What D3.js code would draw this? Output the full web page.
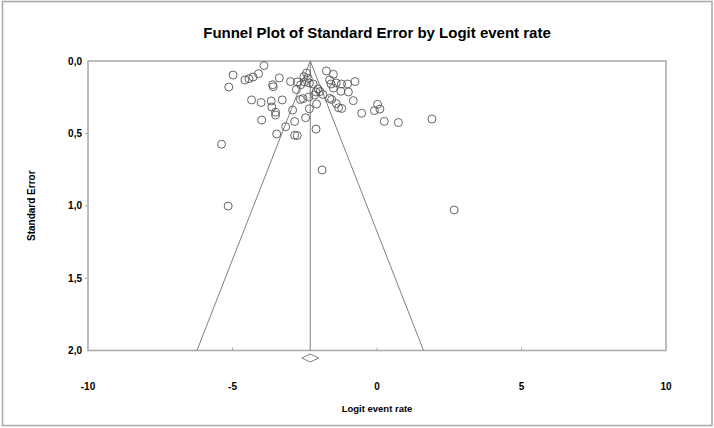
<!DOCTYPE html>
<html>
<head>
<meta charset="utf-8">
<script src="https://cdn.jsdelivr.net/npm/d3@7"></script>
<style>
  body { margin: 0; background: #fff; }
  svg text { font-family: "Liberation Sans", Arial, sans-serif; font-weight: bold; fill: #000; }
</style>
</head>
<body>
<div id="chart"></div>
<script>
// Study effects (logit event rate) and their standard errors
const logitRates = [
  -3.91, -4.98, -5.13, -4.57, -4.43, -4.29, -4.10, -3.38, -3.61, -3.59,
  -2.99, -4.34, -4.01, -3.66, -3.28, -3.64, -3.51, -3.51, -3.99, -2.92,
  -3.16, -3.47, -2.85, -2.76, -2.11, -5.38, -5.15, -1.90,  2.67, -2.85,
  -2.47, -2.34, -2.65, -2.56, -2.36, -2.09, -2.76, -2.64, -2.79, -2.44,
  -2.53, -2.38, -2.34, -2.51, -2.21, -2.04, -2.11, -1.97, -2.16, -1.87,
  -1.75, -1.51, -0.76, -1.64, -1.59, -1.41, -1.23, -1.02, -1.51, -1.25,
  -0.99, -1.64, -1.57, -1.41, -1.33, -1.22, -0.82, -0.53,  0.02, -0.09,
   0.10,  0.25,  0.74,  1.90
];
const standardErrors = [
  0.031, 0.097, 0.180, 0.131, 0.122, 0.111, 0.088, 0.117, 0.164, 0.178,
  0.142, 0.269, 0.287, 0.276, 0.269, 0.318, 0.354, 0.373, 0.408, 0.339,
  0.454, 0.504, 0.513, 0.515, 0.470, 0.575, 1.002, 0.753, 1.029, 0.418,
  0.392, 0.330, 0.266, 0.260, 0.249, 0.297, 0.145, 0.164, 0.197, 0.083,
  0.108, 0.120, 0.152, 0.145, 0.159, 0.193, 0.214, 0.211, 0.235, 0.231,
  0.069, 0.092, 0.142, 0.131, 0.159, 0.152, 0.159, 0.159, 0.187, 0.209,
  0.214, 0.258, 0.266, 0.294, 0.323, 0.328, 0.274, 0.361, 0.299, 0.343,
  0.332, 0.417, 0.425, 0.401
];

// Combined estimate and its confidence interval (diamond)
const meanEffect = -2.31;
const meanCI = [-2.60, -2.02];

const xTicks = [-10, -5, 0, 5, 10];
const yTicks = [0, 0.5, 1.0, 1.5, 2.0];

const width = 714, height = 428;
const plot = { left: 88, right: 666, top: 61, bottom: 350.5 };
const frameColor = "#a8a8a8";
const lineColor = "#808080";

const svg = d3.select("#chart").append("svg")
    .attr("width", width)
    .attr("height", height);

// Outer border round the whole picture
svg.append("rect")
    .attr("x", 2.5).attr("y", 1.5)
    .attr("width", 709.5).attr("height", 424)
    .attr("fill", "none")
    .attr("stroke", frameColor)
    .attr("stroke-width", 1.5);

const x = d3.scaleLinear().domain([-10, 10]).range([plot.left, plot.right]);
const y = d3.scaleLinear().domain([0, 2]).range([plot.top, plot.bottom]);

// Plot frame
svg.append("rect")
    .attr("x", plot.left).attr("y", plot.top)
    .attr("width", plot.right - plot.left)
    .attr("height", plot.bottom - plot.top)
    .attr("fill", "none")
    .attr("stroke", frameColor)
    .attr("stroke-width", 1.5);

// Title
svg.append("text")
    .attr("x", (plot.left + plot.right) / 2)
    .attr("y", 37.5)
    .attr("text-anchor", "middle")
    .style("font-size", "15px")
    .text("Funnel Plot of Standard Error by Logit event rate");

// Y ticks and labels
const fmt = d => d.toFixed(1).replace(".", ",");
svg.selectAll("line.ytick")
    .data(yTicks.slice(1, -1))
    .enter().append("line")
    .attr("class", "ytick")
    .attr("x1", plot.left - 3).attr("x2", plot.left)
    .attr("y1", d => y(d)).attr("y2", d => y(d))
    .attr("stroke", frameColor);

svg.selectAll("text.ylabel")
    .data(yTicks)
    .enter().append("text")
    .attr("class", "ylabel")
    .attr("x", plot.left - 6)
    .attr("y", d => y(d))
    .attr("dy", "0.35em")
    .attr("text-anchor", "end")
    .style("font-size", "10px")
    .text(fmt);

svg.append("text")
    .attr("transform", `translate(35,${y(1)}) rotate(-90)`)
    .attr("text-anchor", "middle")
    .style("font-size", "10px")
    .text("Standard Error");

// X ticks and labels
svg.selectAll("line.xtick")
    .data(xTicks.slice(1, -1))
    .enter().append("line")
    .attr("class", "xtick")
    .attr("x1", d => x(d)).attr("x2", d => x(d))
    .attr("y1", plot.bottom - 3).attr("y2", plot.bottom)
    .attr("stroke", frameColor);

svg.selectAll("text.xlabel")
    .data(xTicks)
    .enter().append("text")
    .attr("class", "xlabel")
    .attr("x", d => x(d))
    .attr("y", 386)
    .attr("dy", "0.35em")
    .attr("text-anchor", "middle")
    .style("font-size", "10px")
    .text(d => d);

svg.append("text")
    .attr("x", x(0))
    .attr("y", 412)
    .attr("text-anchor", "middle")
    .style("font-size", "9.5px")
    .text("Logit event rate");

// Funnel: mean line and 95% limits
const seMax = 2;
svg.append("line")
    .attr("x1", x(meanEffect)).attr("x2", x(meanEffect))
    .attr("y1", y(0)).attr("y2", y(seMax))
    .attr("stroke", lineColor);

[-1.96, 1.96].forEach(z => {
    svg.append("line")
        .attr("x1", x(meanEffect)).attr("y1", y(0))
        .attr("x2", x(meanEffect + z * seMax)).attr("y2", y(seMax))
        .attr("stroke", lineColor);
});

// Diamond for the combined estimate
const dy = 358, dh = 4;
svg.append("path")
    .attr("d", `M${x(meanCI[0])},${dy} L${x(meanEffect)},${dy - dh} L${x(meanCI[1])},${dy} L${x(meanEffect)},${dy + dh} Z`)
    .attr("fill", "none")
    .attr("stroke", lineColor);

// Study points
svg.selectAll("circle.study")
    .data(logitRates.map((v, i) => ({ v, se: standardErrors[i] })))
    .enter().append("circle")
    .attr("class", "study")
    .attr("cx", d => x(d.v))
    .attr("cy", d => y(d.se))
    .attr("r", 4)
    .attr("fill", "none")
    .attr("stroke", "#555")
    .attr("stroke-width", 0.9);
</script>
</body>
</html>
